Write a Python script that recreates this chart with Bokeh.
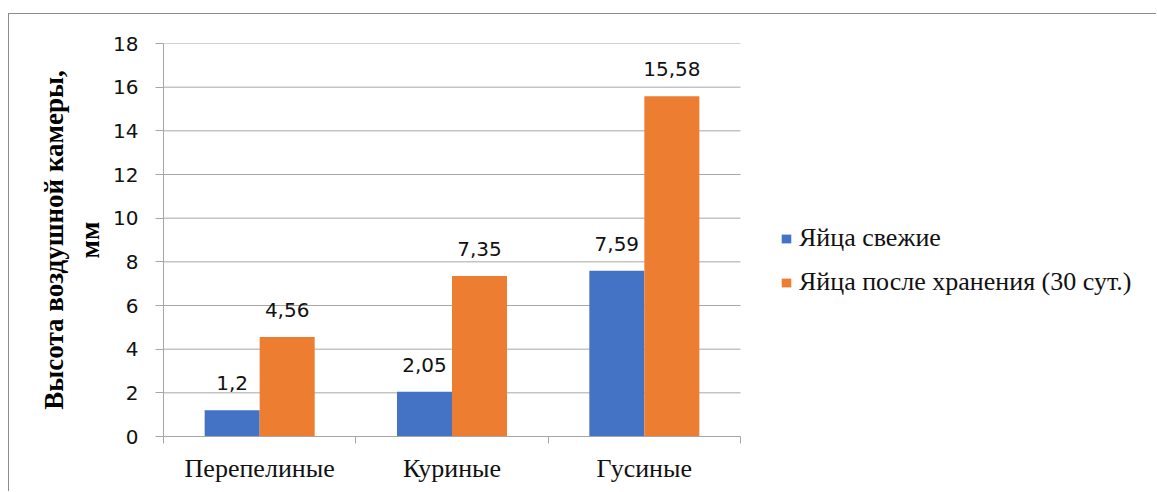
from bokeh.plotting import figure
from bokeh.models import (ColumnDataSource, FixedTicker, Range1d, Legend, LegendItem, LabelSet)
from bokeh.core.properties import value
from bokeh.embed import file_html
from bokeh.resources import INLINE

categories = ["Перепелиные", "Куриные", "Гусиные"]
fresh = [1.2, 2.05, 7.59]
stored = [4.56, 7.35, 15.58]
fresh_labels = ["1,2", "2,05", "7,59"]
stored_labels = ["4,56", "7,35", "15,58"]
series_names = ["Яйца свежие", "Яйца после хранения (30 сут.)"]
y_ticks = [0, 2, 4, 6, 8, 10, 12, 14, 16, 18]

BLUE = "#4472C4"
ORANGE = "#ED7D31"
GRID = "#a6a6a6"
SANS = "DejaVu Sans"
SERIF = "Liberation Serif"

# canvas geometry (px): plot area spans 577 px for the three groups,
# the legend sits to its right inside the same frame
W, H = 1148, 478
LEFT, TOP, BOTTOM = 154, 29, 56
GROUP_AREA = 577
n = len(categories)
x_end = n * (W - LEFT) / GROUP_AREA

bar_w = 0.286
idx = list(range(n))
centers = [i + 0.5 for i in idx]

src_fresh = ColumnDataSource(dict(x=[c - bar_w / 2 for c in centers], top=fresh, lab=fresh_labels))
src_stored = ColumnDataSource(dict(x=[c + bar_w / 2 for c in centers], top=stored, lab=stored_labels))

p = figure(width=W, height=H, output_backend="svg", toolbar_location=None,
           x_range=Range1d(0, x_end), y_range=Range1d(0, 18),
           min_border_left=LEFT, min_border_right=0, min_border_top=TOP, min_border_bottom=BOTTOM)
p.outline_line_color = None
p.background_fill_color = "white"
p.border_fill_color = "white"
# chart border drawn by the page element around the canvas
p.margin = (13, 0, 0, 8)
p.styles = {"border-top": "1px solid #8c8c8c", "border-left": "1px solid #8c8c8c"}

# horizontal gridlines limited to the group area
p.xgrid.grid_line_color = None
p.ygrid.grid_line_color = None
p.segment(x0=[0] * len(y_ticks), x1=[n] * len(y_ticks), y0=y_ticks, y1=y_ticks,
          line_color=GRID, line_width=1)

r1 = p.vbar(x="x", top="top", width=bar_w, bottom=0, source=src_fresh,
            fill_color=BLUE, line_color=None)
r2 = p.vbar(x="x", top="top", width=bar_w, bottom=0, source=src_stored,
            fill_color=ORANGE, line_color=None)

for src in (src_fresh, src_stored):
    p.add_layout(LabelSet(x="x", y="top", text="lab", source=src, y_offset=27,
                          text_align="center", text_baseline="middle",
                          text_font=value(SANS), text_font_size=value("20px"),
                          text_color="#111"))

# y axis
p.yaxis.ticker = FixedTicker(ticks=y_ticks)
p.yaxis.axis_line_color = GRID
p.yaxis.major_tick_line_color = GRID
p.yaxis.major_tick_out = 8
p.yaxis.major_tick_in = 0
p.yaxis.minor_tick_line_color = None
p.yaxis.major_label_standoff = 17
p.yaxis.major_label_text_font = SANS
p.yaxis.major_label_text_font_size = "20px"
p.yaxis.major_label_text_color = "#111"
p.yaxis.axis_label = "Высота воздушной камеры,\nмм"
p.yaxis.axis_label_text_font = SERIF
p.yaxis.axis_label_text_font_style = "bold"
p.yaxis.axis_label_text_font_size = "27px"
p.yaxis.axis_label_text_color = "#000"
p.yaxis.axis_label_standoff = 5

# x axis: labels at category centres, ticks at category boundaries
p.xaxis.bounds = (0, n)
p.xaxis.ticker = FixedTicker(ticks=centers, minor_ticks=[0] + [i + 1 for i in idx])
p.xaxis.major_label_overrides = {c: name for c, name in zip(centers, categories)}
p.xaxis.axis_line_color = GRID
p.xaxis.major_tick_line_color = None
p.xaxis.major_tick_out = 0
p.xaxis.major_tick_in = 0
p.xaxis.minor_tick_line_color = GRID
p.xaxis.minor_tick_out = 7
p.xaxis.minor_tick_in = 0
p.xaxis.major_label_standoff = 10
p.xaxis.major_label_text_font = SERIF
p.xaxis.major_label_text_font_size = "26px"
p.xaxis.major_label_text_color = "#111"

legend = Legend(items=[LegendItem(label=series_names[0], renderers=[r1]),
                       LegendItem(label=series_names[1], renderers=[r2])],
                location=(617, 139), orientation="vertical")
legend.glyph_width = 12
legend.glyph_height = 11
legend.label_height = 24
legend.spacing = 14
legend.padding = 0
legend.margin = 0
legend.label_standoff = 7
legend.label_text_font = SERIF
legend.label_text_font_size = "26px"
legend.label_text_color = "#111"
legend.border_line_color = None
legend.background_fill_alpha = 0
p.add_layout(legend, "center")

open("out.html", "w").write(file_html(p, INLINE))
